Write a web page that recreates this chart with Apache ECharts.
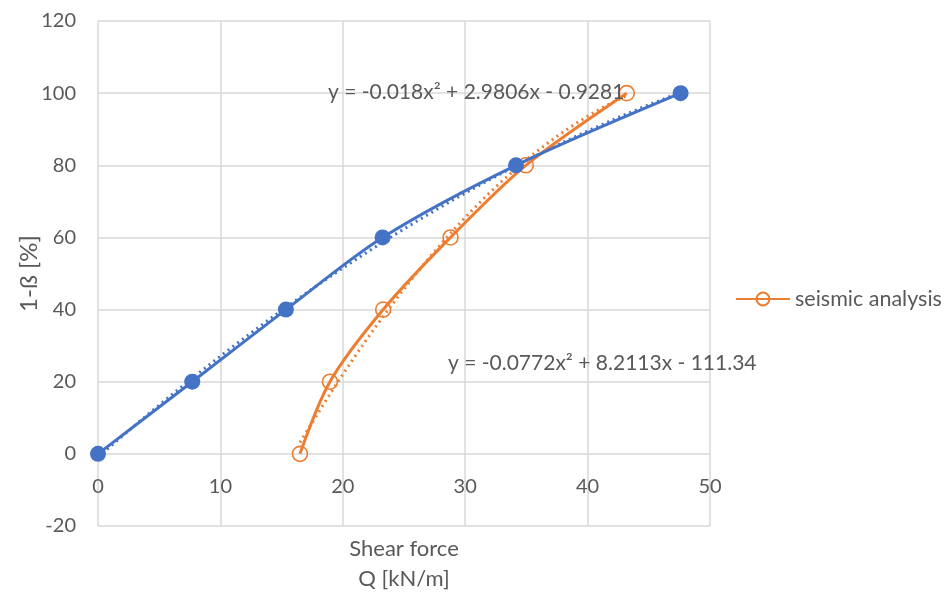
<!DOCTYPE html>
<html>
<head>
<meta charset="utf-8">
<script src="https://cdn.jsdelivr.net/npm/echarts@6/dist/echarts.min.js"></script>
<style>
html,body{margin:0;padding:0;background:#fff;}
#chart{width:950px;height:597px;}
</style>
</head>
<body>
<div id="chart"></div>
<script>
// Data
const staticQ = [0, 7.7, 15.35, 23.25, 34.15, 47.6];
const staticY = [0, 20, 40, 60, 80, 100];
const seismicQ = [16.5, 18.95, 23.3, 28.8, 34.95, 43.2];
const seismicY = [0, 20, 40, 60, 80, 100];
const seriesNames = ['static analysis', 'seismic analysis'];
// Trendline coefficients shown on the chart (a, b, c for y = a x^2 + b x + c)
const staticTrend = [-0.018, 2.9806, -0.9281];
const seismicTrend = [-0.0772, 8.2113, -111.34];
const staticTrendLabel = 'y = -0.018x² + 2.9806x - 0.9281';
const seismicTrendLabel = 'y = -0.0772x² + 8.2113x - 111.34';
const xTitle = 'Shear force\nQ [kN/m]';
const yTitle = '1-ß [%]';

function pairs(xs, ys){ return xs.map((x,i)=>[x, ys[i]]); }
function trend(coef, x0, x1, n){
  const out = [];
  for (let i=0;i<=n;i++){
    const x = x0 + (x1-x0)*i/n;
    out.push([x, coef[0]*x*x + coef[1]*x + coef[2]]);
  }
  return out;
}

const BLUE = '#4472C4', ORANGE = '#ED7D31', TXT = '#595959', GRID = '#d9d9d9';
const FONT = 'Lato, "Open Sans", sans-serif';

const chart = echarts.init(document.getElementById('chart'), null, {renderer:'canvas'});
chart.setOption({
  backgroundColor:'#fff',
  animation:false,
  textStyle:{fontFamily:FONT},
  grid:{left:98, right:240, top:21, bottom:71, containLabel:false, outerBoundsMode:'none'},
  legend:{
    data:[seriesNames[1]],
    left:730, top:283,
    itemWidth:54, itemHeight:16,
    textStyle:{color:TXT, fontSize:21.5, fontFamily:FONT},
    itemGap:4
  },
  xAxis:{
    type:'value', min:0, max:50, interval:10,
    name:xTitle, nameLocation:'middle', nameGap:8, nameMoveOverlap:false,
    nameTextStyle:{color:TXT, fontSize:22, lineHeight:30, fontFamily:FONT, verticalAlign:'top'},
    axisLine:{show:false, onZero:false},
    axisTick:{show:false},
    axisLabel:{color:TXT, fontSize:20, margin:-49, fontFamily:FONT},
    splitLine:{show:true, lineStyle:{color:GRID, width:1.5}}
  },
  yAxis:{
    type:'value', min:-20, max:120, interval:20,
    name:yTitle, nameLocation:'middle', nameGap:57, nameRotate:90, nameMoveOverlap:false,
    nameTextStyle:{color:TXT, fontSize:24, fontFamily:FONT},
    axisLine:{show:false},
    axisTick:{show:false},
    axisLabel:{color:TXT, fontSize:20, margin:22, fontFamily:FONT},
    splitLine:{show:true, lineStyle:{color:GRID, width:1.5}}
  },
  series:[
    {
      name:seriesNames[1], type:'line', data:pairs(seismicQ, seismicY),
      smooth:0.3, symbol:'circle', symbolSize:15,
      lineStyle:{color:ORANGE, width:3},
      itemStyle:{color:'rgba(255,255,255,0)', borderColor:ORANGE, borderWidth:1.6}, z:3
    },
    {
      name:seriesNames[1]+' trend', type:'line',
      data:trend(seismicTrend, seismicQ[0], seismicQ[seismicQ.length-1], 60),
      showSymbol:false, symbol:'none', smooth:false,
      lineStyle:{color:ORANGE, width:3, type:[2,4]}, z:2
    },
    {
      name:seriesNames[0], type:'line', data:pairs(staticQ, staticY),
      smooth:0.3, symbol:'circle', symbolSize:16,
      lineStyle:{color:BLUE, width:3}, itemStyle:{color:BLUE}, z:4
    },
    {
      name:seriesNames[0]+' trend', type:'line',
      data:trend(staticTrend, staticQ[0], staticQ[staticQ.length-1], 60),
      showSymbol:false, symbol:'none', smooth:false,
      lineStyle:{color:BLUE, width:3, type:[2,4]}, z:2
    }
  ],
  graphic:[
    {type:'text', left:328, top:82, z:10,
     style:{text:staticTrendLabel, fill:TXT, font:'21px '+FONT}},
    {type:'text', left:448, top:353, z:10,
     style:{text:seismicTrendLabel, fill:TXT, font:'21px '+FONT}}
  ]
});
</script>
</body>
</html>
